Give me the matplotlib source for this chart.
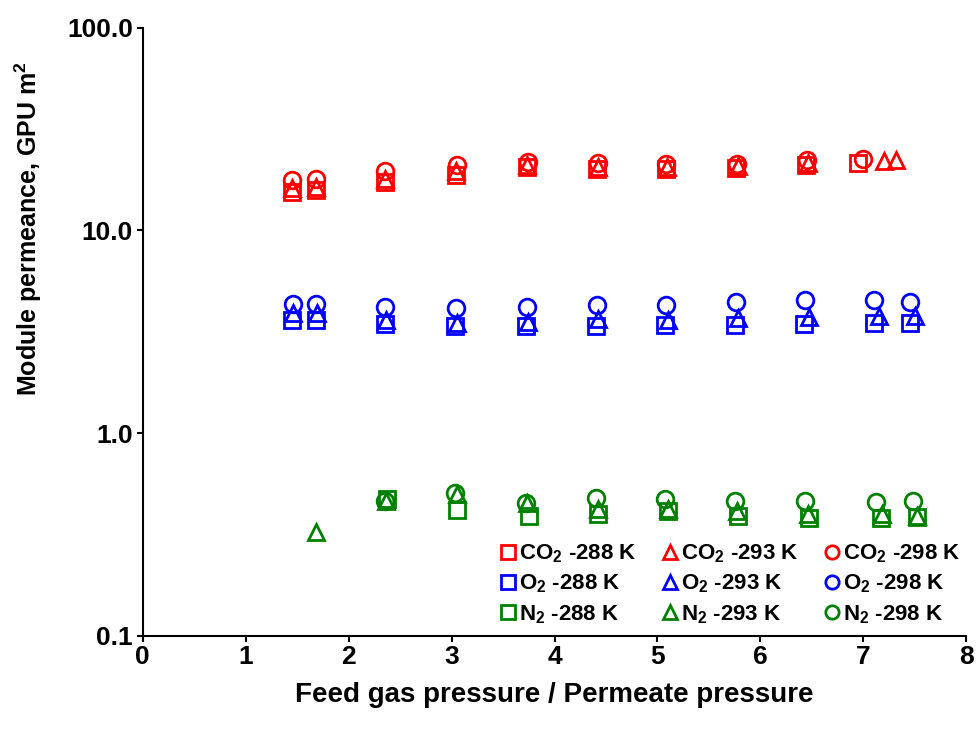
import matplotlib.pyplot as plt
from matplotlib.ticker import FixedLocator, FixedFormatter, NullLocator

plt.rcParams['font.family'] = ['Liberation Sans', 'DejaVu Sans']
plt.rcParams['font.weight'] = 'bold'
plt.rcParams['mathtext.fontset'] = 'custom'
plt.rcParams['mathtext.bf'] = 'Liberation Sans:bold'
plt.rcParams['mathtext.rm'] = 'Liberation Sans:bold'

# CO2 data
co2_x_288 = [1.45, 1.68, 2.35, 3.04, 3.73, 4.41, 5.08, 5.76, 6.44, 6.95]
co2_y_288 = [15.4, 15.8, 17.3, 18.7, 20.5, 20.1, 20.0, 20.3, 21.0, 21.6]
co2_x_293 = [1.45, 1.68, 2.35, 3.04, 3.73, 4.42, 5.09, 5.78, 6.46, 7.2, 7.32]
co2_y_293 = [16.2, 16.4, 18.0, 19.6, 21.0, 20.6, 20.6, 20.8, 21.5, 22.0, 22.3]
co2_x_298 = [1.45, 1.68, 2.35, 3.05, 3.74, 4.42, 5.08, 5.77, 6.45, 7.0]
co2_y_298 = [17.7, 17.9, 19.6, 21.0, 21.8, 21.5, 21.3, 21.3, 22.2, 22.6]

# O2 data
o2_x_288 = [1.45, 1.68, 2.35, 3.03, 3.72, 4.40, 5.07, 5.75, 6.42, 7.1, 7.45]
o2_y_288 = [3.6, 3.6, 3.45, 3.37, 3.37, 3.37, 3.4, 3.4, 3.45, 3.5, 3.5]
o2_x_293 = [1.46, 1.69, 2.36, 3.05, 3.74, 4.42, 5.10, 5.78, 6.47, 7.15, 7.5]
o2_y_293 = [3.9, 3.9, 3.6, 3.5, 3.55, 3.65, 3.6, 3.7, 3.75, 3.8, 3.8]
o2_x_298 = [1.46, 1.68, 2.35, 3.04, 3.73, 4.41, 5.08, 5.76, 6.43, 7.1, 7.45]
o2_y_298 = [4.34, 4.34, 4.2, 4.15, 4.2, 4.3, 4.3, 4.43, 4.55, 4.55, 4.45]

# N2 data
n2_x_288 = [2.37, 3.05, 3.75, 4.42, 5.10, 5.78, 6.47, 7.17, 7.52]
n2_y_288 = [0.47, 0.417, 0.39, 0.40, 0.41, 0.39, 0.38, 0.38, 0.385]
n2_x_293 = [1.68, 2.36, 3.05, 3.73, 4.42, 5.10, 5.77, 6.46, 7.18, 7.52]
n2_y_293 = [0.325, 0.46, 0.50, 0.45, 0.42, 0.42, 0.41, 0.40, 0.40, 0.39]
n2_x_298 = [2.35, 3.03, 3.72, 4.40, 5.07, 5.75, 6.43, 7.12, 7.48]
n2_y_298 = [0.46, 0.505, 0.45, 0.48, 0.47, 0.46, 0.46, 0.455, 0.46]

series = [
    (co2_x_288, co2_y_288, 's', 'red', r'CO$_\mathbf{2}$ -288 K'),
    (o2_x_288, o2_y_288, 's', 'blue', r'O$_\mathbf{2}$ -288 K'),
    (n2_x_288, n2_y_288, 's', 'green', r'N$_\mathbf{2}$ -288 K'),
    (co2_x_293, co2_y_293, '^', 'red', r'CO$_\mathbf{2}$ -293 K'),
    (o2_x_293, o2_y_293, '^', 'blue', r'O$_\mathbf{2}$ -293 K'),
    (n2_x_293, n2_y_293, '^', 'green', r'N$_\mathbf{2}$ -293 K'),
    (co2_x_298, co2_y_298, 'o', 'red', r'CO$_\mathbf{2}$ -298 K'),
    (o2_x_298, o2_y_298, 'o', 'blue', r'O$_\mathbf{2}$ -298 K'),
    (n2_x_298, n2_y_298, 'o', 'green', r'N$_\mathbf{2}$ -298 K'),
]

fig = plt.figure(figsize=(9.78, 7.29), dpi=100)
ax = fig.add_axes([0.146, 0.128, 0.842, 0.834])

for xs, ys, m, c, lab in series:
    ax.plot(xs, ys, linestyle='none', marker=m, markersize=12,
            markerfacecolor='none', markeredgecolor=c, markeredgewidth=2,
            label=lab)

ax.set_yscale('log')
ax.set_ylim(0.1, 100)
ax.set_xlim(0, 8)
ax.yaxis.set_major_locator(FixedLocator([0.1, 1, 10, 100]))
ax.yaxis.set_major_formatter(FixedFormatter(['0.1', '1.0', '10.0', '100.0']))
ax.yaxis.set_minor_locator(NullLocator())
ax.set_xticks(range(0, 9))

for s in ['top', 'right']:
    ax.spines[s].set_visible(False)
for s in ['left', 'bottom']:
    ax.spines[s].set_linewidth(1.5)
ax.tick_params(axis='both', labelsize=19, width=1.5, length=4, pad=3,
               direction='out')
for lbl in ax.get_xticklabels() + ax.get_yticklabels():
    lbl.set_fontweight('bold')

ax.set_xlabel('Feed gas pressure / Permeate pressure', fontsize=20,
              fontweight='bold', labelpad=9)
ax.set_ylabel(r'Module permeance, GPU m$^\mathbf{2}$', fontsize=18,
              fontweight='bold')
ax.yaxis.set_label_coords(-0.12, 0.67)

leg = ax.legend(ncol=3, loc='lower right', bbox_to_anchor=(1.005, 0.0),
                frameon=False, fontsize=16, handletextpad=0.0,
                handlelength=1.0, columnspacing=1.0, labelspacing=0.35,
                markerscale=0.8, borderaxespad=0.05)
for t in leg.get_texts():
    t.set_fontweight('bold')

fig.savefig('out.png', dpi=100)
